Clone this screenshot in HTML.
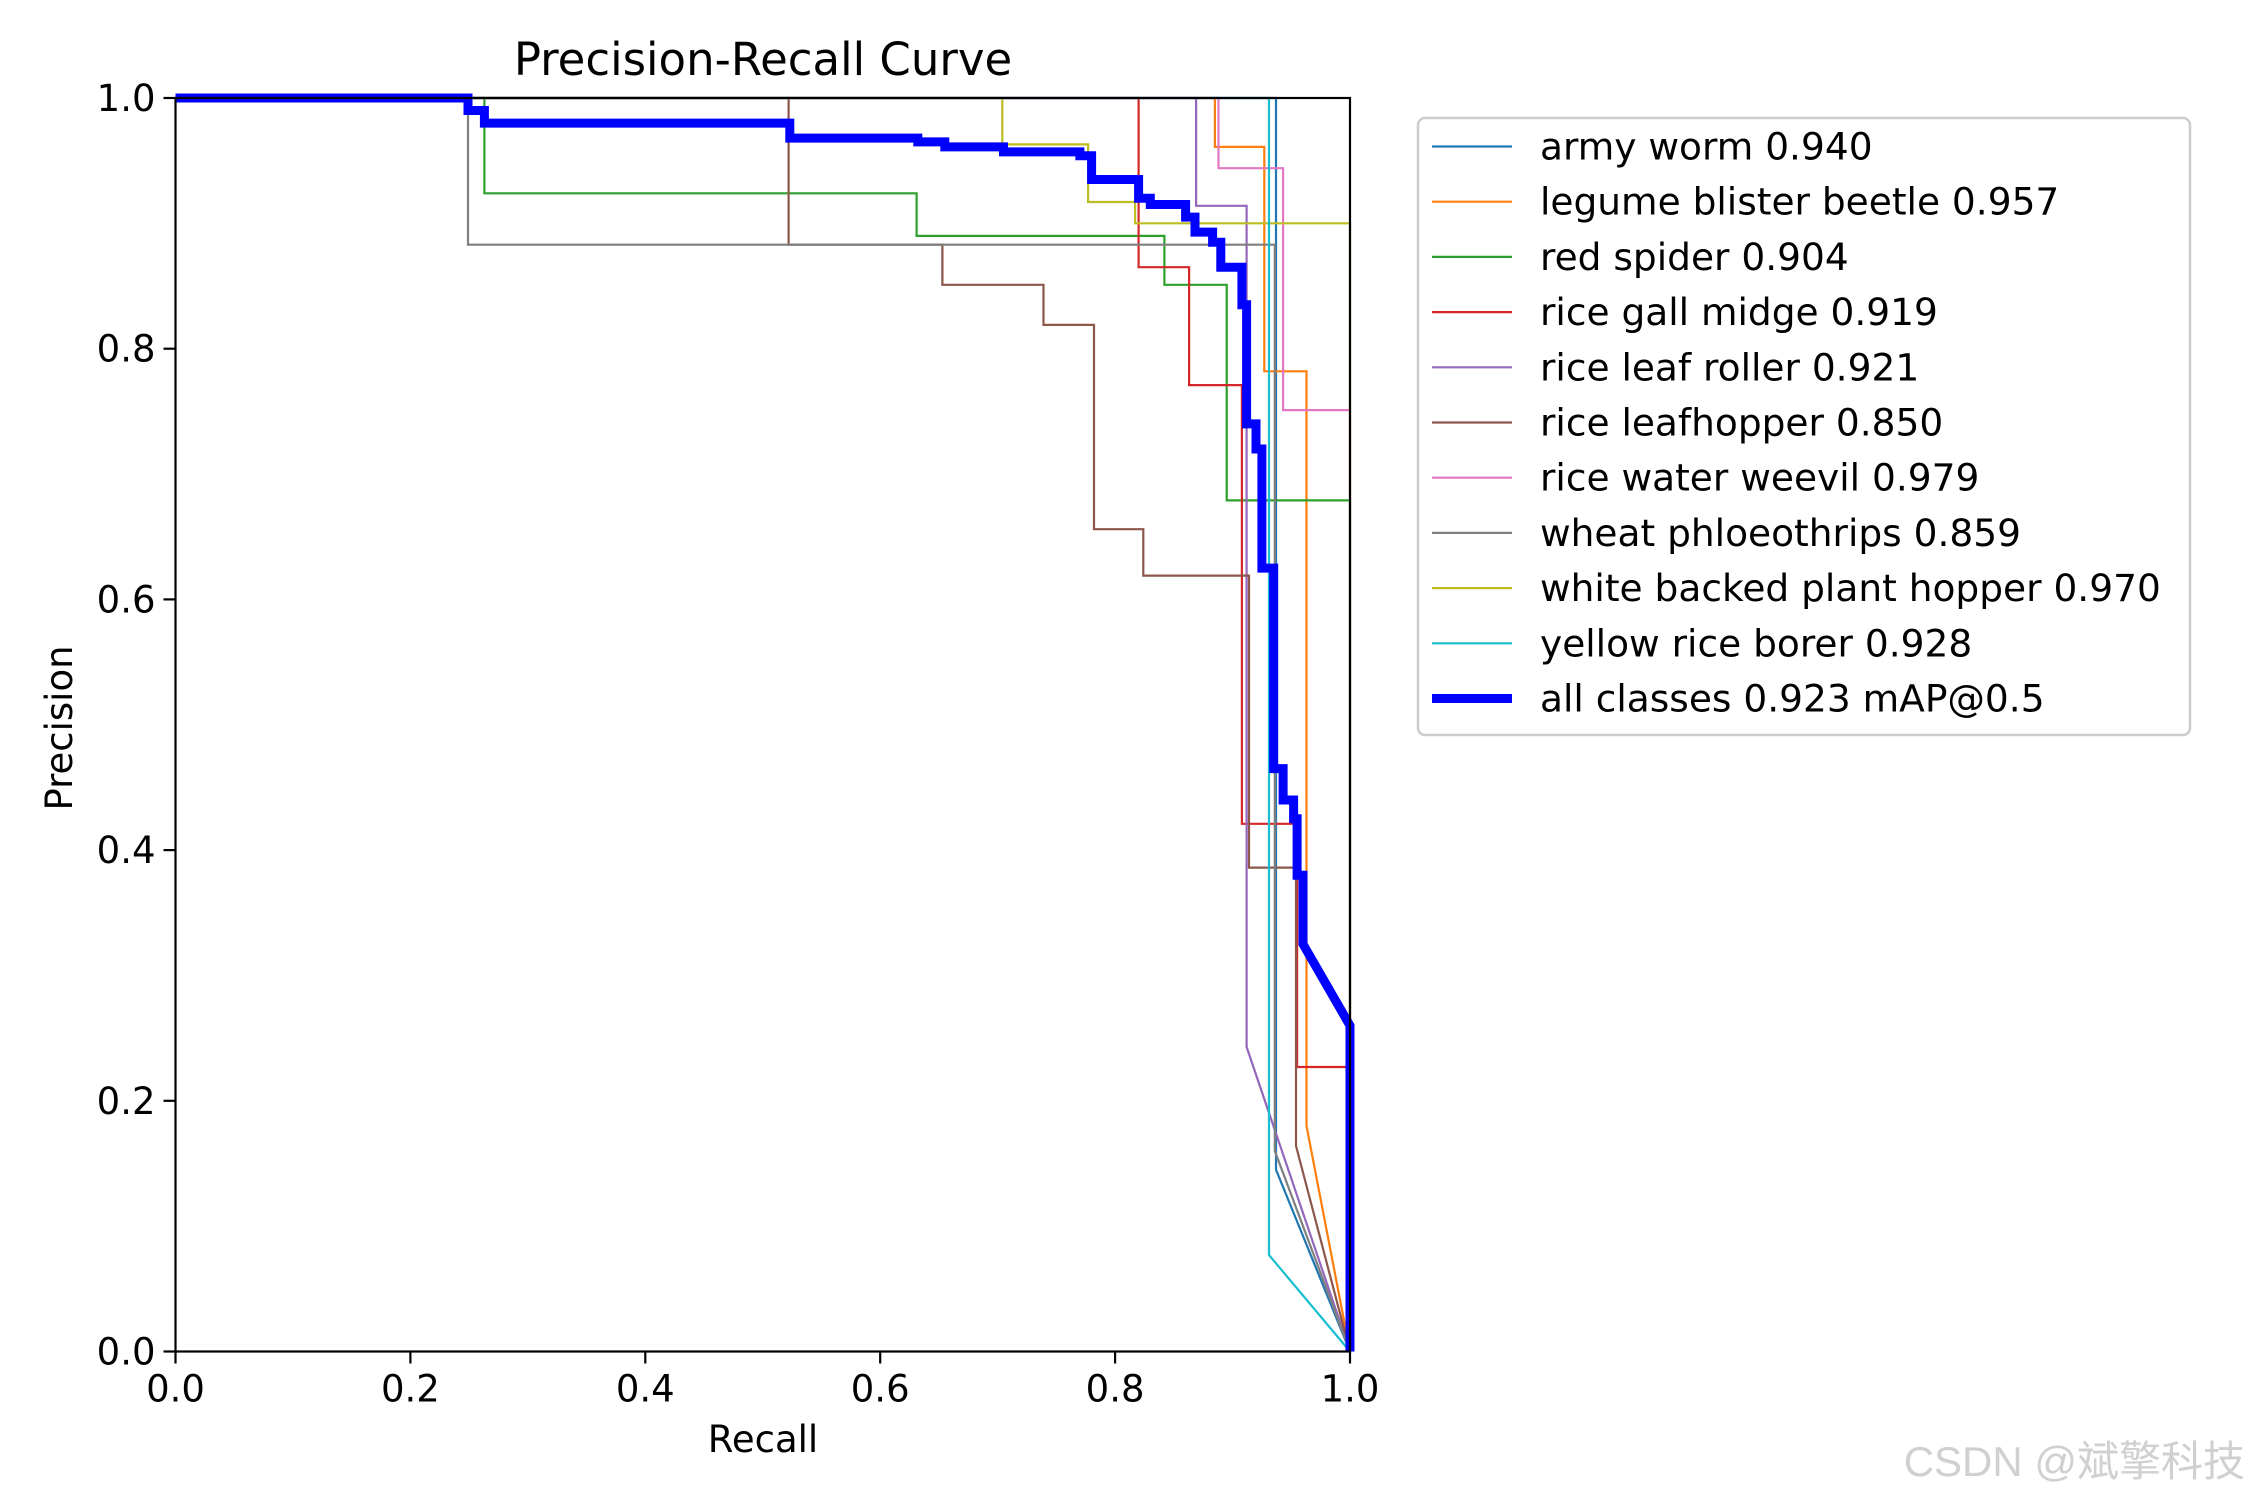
<!DOCTYPE html>
<html><head><meta charset="utf-8"><style>
html,body{margin:0;padding:0;background:#fff;}
svg{display:block;font-family:"DejaVu Sans","Liberation Sans",sans-serif;}
</style></head><body>
<svg id="chart" width="2250" height="1500" xmlns="http://www.w3.org/2000/svg">
<text x="763" y="75" font-size="45" text-anchor="middle">Precision-Recall Curve</text>
<g id="plot"></g>
<g id="axes"></g>
<text x="763" y="1452" font-size="37" text-anchor="middle">Recall</text>
<text x="0" y="0" font-size="37" text-anchor="middle" transform="translate(72,728) rotate(-90)">Precision</text>
<g id="legend"></g>
<text x="2245" y="1476" font-size="42" text-anchor="end" fill="#d0d0d0" font-family="'Liberation Sans','Noto Sans CJK SC',sans-serif">CSDN @斌擎科技</text>
</svg>
<script>
const seriesNames = ["army worm 0.940","legume blister beetle 0.957","red spider 0.904","rice gall midge 0.919","rice leaf roller 0.921","rice leafhopper 0.850","rice water weevil 0.979","wheat phloeothrips 0.859","white backed plant hopper 0.970","yellow rice borer 0.928","all classes 0.923 mAP@0.5"];
const seriesColors = ["#1f77b4","#ff7f0e","#2ca02c","#d62728","#9467bd","#8c564b","#e377c2","#7f7f7f","#bcbd22","#17becf","#0000ff"];
const recArmy = [0,0.937,0.937,1.0];
const preArmy = [1,1,0.145,0];
const recLegume = [0,0.885,0.885,0.927,0.927,0.963,0.963,1.0];
const preLegume = [1,1,0.961,0.961,0.782,0.782,0.18,0];
const recSpider = [0,0.263,0.263,0.631,0.631,0.842,0.842,0.895,0.895,1.0,1.0];
const preSpider = [1,1,0.924,0.924,0.890,0.890,0.851,0.851,0.679,0.679,0];
const recGall = [0,0.820,0.820,0.863,0.863,0.908,0.908,0.955,0.955,1.0,1.0];
const preGall = [1,1,0.865,0.865,0.771,0.771,0.421,0.421,0.227,0.227,0];
const recRoller = [0,0.869,0.869,0.912,0.912,1.0];
const preRoller = [1,1,0.914,0.914,0.243,0];
const recHopper = [0,0.522,0.522,0.653,0.653,0.739,0.739,0.782,0.782,0.824,0.824,0.914,0.914,0.954,0.954,1.0];
const preHopper = [1,1,0.883,0.883,0.851,0.851,0.819,0.819,0.656,0.656,0.619,0.619,0.386,0.386,0.164,0];
const recWeevil = [0,0.888,0.888,0.943,0.943,1.0,1.0];
const preWeevil = [1,1,0.944,0.944,0.751,0.751,0];
const recThrips = [0,0.249,0.249,0.936,0.936,1.0];
const preThrips = [1,1,0.883,0.883,0.16,0];
const recPlant = [0,0.704,0.704,0.777,0.777,0.817,0.817,1.0,1.0];
const prePlant = [1,1,0.963,0.963,0.917,0.917,0.9,0.9,0];
const recBorer = [0,0.931,0.931,1.0];
const preBorer = [1,1,0.077,0];
const recAll = [0,0.249,0.249,0.263,0.263,0.523,0.523,0.632,0.632,0.655,0.655,0.705,0.705,0.77,0.77,0.78,0.78,0.82,0.82,0.83,0.83,0.86,0.86,0.868,0.868,0.883,0.883,0.89,0.89,0.908,0.908,0.912,0.912,0.92,0.92,0.925,0.925,0.935,0.935,0.943,0.943,0.952,0.952,0.955,0.955,0.96,0.96,1.0,1.0];
const preAll = [1,1,0.99,0.99,0.98,0.98,0.968,0.968,0.965,0.965,0.961,0.961,0.957,0.957,0.954,0.954,0.935,0.935,0.92,0.92,0.915,0.915,0.905,0.905,0.893,0.893,0.885,0.885,0.865,0.865,0.835,0.835,0.74,0.74,0.72,0.72,0.625,0.625,0.465,0.465,0.44,0.44,0.425,0.425,0.38,0.38,0.325,0.26,0];
const xTicks = [0,0.2,0.4,0.6,0.8,1.0];
const yTicks = [0,0.2,0.4,0.6,0.8,1.0];
const xTickLabels = ["0.0","0.2","0.4","0.6","0.8","1.0"];
const yTickLabels = ["0.0","0.2","0.4","0.6","0.8","1.0"];

const L=175.5,R=1350,T=98,B=1351.5;
const sx=v=>L+v*(R-L), sy=v=>B-v*(B-T);
const NS="http://www.w3.org/2000/svg";
const mk=(t,a,p)=>{const e=document.createElementNS(NS,t);for(const k in a)e.setAttribute(k,a[k]);p.appendChild(e);return e;};
const plot=document.getElementById('plot'),axes=document.getElementById('axes'),leg=document.getElementById('legend');
const recs=[recArmy,recLegume,recSpider,recGall,recRoller,recHopper,recWeevil,recThrips,recPlant,recBorer,recAll];
const pres=[preArmy,preLegume,preSpider,preGall,preRoller,preHopper,preWeevil,preThrips,prePlant,preBorer,preAll];
const slug=["army-worm","legume-blister-beetle","red-spider","rice-gall-midge","rice-leaf-roller","rice-leafhopper","rice-water-weevil","wheat-phloeothrips","white-backed-plant-hopper","yellow-rice-borer","all-classes"];
recs.forEach((r,i)=>{
  const pts=r.map((v,j)=>sx(v).toFixed(1)+','+sy(pres[i][j]).toFixed(1)).join(' ');
  const pl=mk('polyline',{points:pts,fill:'none',stroke:seriesColors[i],'stroke-width':i==10?9:2.2,'stroke-linejoin':'miter'},plot);
  
  
});
const frame=mk('rect',{x:L,y:T,width:R-L,height:B-T,fill:'none',stroke:'#000','stroke-width':2.2},axes);


xTicks.forEach((v,i)=>{
  const x=sx(v);
  const tk=mk('line',{x1:x,y1:B,x2:x,y2:B+12,stroke:'#000','stroke-width':2.2},axes);
  
  
  const t=mk('text',{x:x,y:B+50,'font-size':37,'text-anchor':'middle'},axes);t.textContent=xTickLabels[i];
  
  
});
yTicks.forEach((v,i)=>{
  const y=sy(v);
  const tk=mk('line',{x1:L-12,y1:y,x2:L,y2:y,stroke:'#000','stroke-width':2.2},axes);
  
  
  const t=mk('text',{x:L-20,y:y+13,'font-size':37,'text-anchor':'end'},axes);t.textContent=yTickLabels[i];
  
  
});
const box=mk('rect',{x:1418,y:118,width:772,height:617,rx:7,fill:'#fff','fill-opacity':0.8,stroke:'#cccccc','stroke-width':2.5},leg);


seriesNames.forEach((n,i)=>{
  const y=146.5+i*55.2;
  const g=mk('g',{},leg);
  
  
  mk('line',{x1:1432,y1:y,x2:1512,y2:y,stroke:seriesColors[i],'stroke-width':i==10?9:2.2},g);
  const t=mk('text',{x:1540,y:y+13,'font-size':37.5},g);t.textContent=n;
});
</script>
</body></html>
